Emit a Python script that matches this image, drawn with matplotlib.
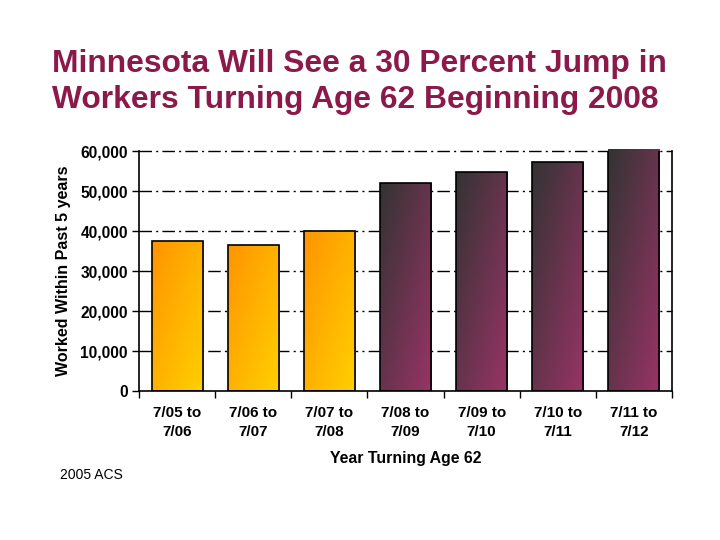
import matplotlib
matplotlib.use("Agg")
import matplotlib.pyplot as plt
import numpy as np
from matplotlib.colors import LinearSegmentedColormap
from matplotlib.patches import Rectangle

plt.rcParams['font.family'] = ['Liberation Sans', 'DejaVu Sans']

categories = ["7/05 to\n7/06", "7/06 to\n7/07", "7/07 to\n7/08", "7/08 to\n7/09",
              "7/09 to\n7/10", "7/10 to\n7/11", "7/11 to\n7/12"]
values = [37400, 36600, 39900, 52000, 54700, 57200, 60500]
groups = ["before", "before", "before", "after", "after", "after", "after"]
yticks = [0, 10000, 20000, 30000, 40000, 50000, 60000]
ytick_labels = ["0", "10,000", "20,000", "30,000", "40,000", "50,000", "60,000"]

title = "Minnesota Will See a 30 Percent Jump in\nWorkers Turning Age 62 Beginning 2008"
ylabel = "Worked Within Past 5 years"
xlabel = "Year Turning Age 62"
source = "2005 ACS"

cmaps = {
    "before": LinearSegmentedColormap.from_list("orng", ["#FF9400", "#FFD000"]),
    "after": LinearSegmentedColormap.from_list("purp", ["#333333", "#993366"]),
}

fig = plt.figure(figsize=(7.2, 5.4), dpi=100)
ax = fig.add_axes([139/720, 1-391/540, 533/720, 240/540])

x = np.arange(len(categories))
width = 0.67

gx, gy = np.meshgrid(np.linspace(0, 1, 64), np.linspace(0, 1, 256))
grad = (gx + (1 - gy)) / 2.0

bars = ax.bar(x, values, width=width, color="none", edgecolor="black",
              linewidth=1.2, zorder=3)
for b, g in zip(bars, groups):
    x0, y0 = b.get_x(), b.get_y()
    w, h = b.get_width(), b.get_height()
    im = ax.imshow(grad, cmap=cmaps[g], extent=[x0, x0 + w, y0, y0 + h],
                   origin="lower", aspect="auto", zorder=2, interpolation="bilinear")
    clip = Rectangle((x0, y0), w, h, transform=ax.transData)
    im.set_clip_path(clip)

ax.set_xlim(-0.5, len(categories) - 0.5)
ax.set_ylim(0, 60000)

for yv in yticks[1:]:
    ax.axhline(yv, color="black", linestyle=(0, (9, 3, 1.5, 3)), linewidth=1.0,
               zorder=1, clip_on=False)

ax.set_yticks(yticks)
ax.set_yticklabels(ytick_labels, fontsize=11.2, fontweight="bold")
ax.set_xticks(np.arange(len(categories) + 1) - 0.5)
ax.set_xticklabels([])
ax.set_xticks(x, minor=True)
ax.set_xticklabels(categories, minor=True, fontsize=11, fontweight="bold",
                   linespacing=1.45)
ax.tick_params(axis="x", which="minor", length=0, pad=10.5)
ax.tick_params(axis="x", which="major", length=5, width=1, direction="out")
ax.tick_params(axis="y", length=5, width=1, direction="out", pad=3)

for s in ["left", "bottom", "right"]:
    ax.spines[s].set_linewidth(1.2)
    ax.spines[s].set_color("black")
ax.spines["top"].set_visible(False)

ax.set_ylabel(ylabel, fontsize=11.5, fontweight="bold", labelpad=7)
ax.set_xlabel(xlabel, fontsize=11.4, fontweight="bold", labelpad=9)

fig.text(52/720, 1 - 82/540, title, fontsize=22.9, color="#8B1A4A", fontweight="bold",
         ha="left", va="center", linespacing=1.3)
fig.text(60/720, 1 - 475/540, source, fontsize=10, ha="left", va="center")

fig.savefig("out.png", dpi=100)
